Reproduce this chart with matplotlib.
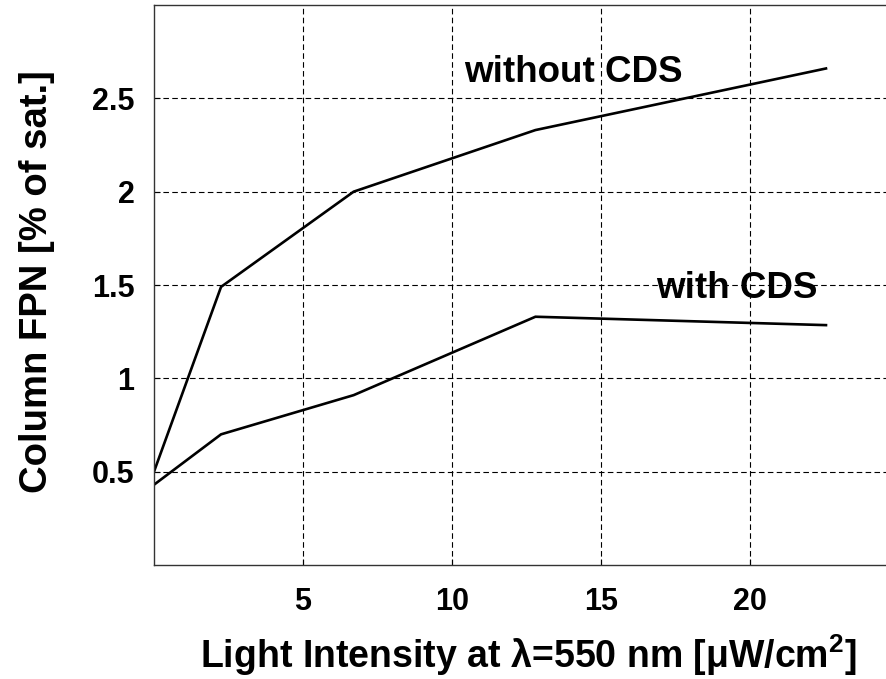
import matplotlib
matplotlib.use("Agg")
import matplotlib.pyplot as plt

# Data
x_without = [0.0, 2.25, 6.7, 12.8, 22.55]
y_without = [0.50, 1.49, 2.00, 2.33, 2.66]
x_with = [0.0, 2.25, 6.7, 12.8, 22.55]
y_with = [0.43, 0.70, 0.91, 1.33, 1.285]

x_ticks = [5, 10, 15, 20]
x_ticklabels = ["5", "10", "15", "20"]
y_ticks = [0.5, 1.0, 1.5, 2.0, 2.5]
y_ticklabels = ["0.5", "1", "1.5", "2", "2.5"]

plt.rcParams['font.family'] = ['Liberation Sans', 'DejaVu Sans']
plt.rcParams['mathtext.fontset'] = 'custom'
plt.rcParams['mathtext.rm'] = 'Liberation Sans:bold'
plt.rcParams['mathtext.it'] = 'Liberation Sans:bold'
plt.rcParams['mathtext.bf'] = 'Liberation Sans:bold'

fig = plt.figure(figsize=(8.87, 6.79), dpi=100)
left = 154 / 887
bottom = 1 - 565 / 679
width = 25 * 29.8 / 887
height = (565 - 5) / 679
ax = fig.add_axes([left, bottom, width, height])

ax.plot(x_without, y_without, color='black', lw=1.9, solid_joinstyle='miter')
ax.plot(x_with, y_with, color='black', lw=1.9, solid_joinstyle='miter')

ax.set_xlim(0, 25)
ax.set_ylim(0, 3.0)
ax.set_xticks(x_ticks)
ax.set_xticklabels(x_ticklabels)
ax.set_yticks(y_ticks)
ax.set_yticklabels(y_ticklabels)

ax.grid(True, color='black', linestyle=(0, (5, 3)), linewidth=0.8)
ax.tick_params(direction='in', length=4, width=0.8, labelsize=22, pad=14)
for lab in ax.get_xticklabels() + ax.get_yticklabels():
    lab.set_fontweight('bold')
ax.tick_params(axis='x', pad=16)

for s in ax.spines.values():
    s.set_linewidth(1.0)
    s.set_color('#333333')

ax.text(10.4, 2.64, "without CDS", fontsize=26.5, fontweight='bold', ha='left', va='center')
ax.text(16.85, 1.48, "with CDS", fontsize=26.5, fontweight='bold', ha='left', va='center')

fig.text(528 / 887, 1 - 655 / 679, r"Light Intensity at $\lambda$=550 nm [$\mu$W/cm$^2$]",
         fontsize=27, fontweight='bold', ha='center', va='center')
fig.text(37 / 887, 1 - 282 / 679, "Column FPN [% of sat.]", fontsize=27.5, fontweight='bold',
         ha='center', va='center', rotation=90)

fig.savefig("out.png", dpi=100)
